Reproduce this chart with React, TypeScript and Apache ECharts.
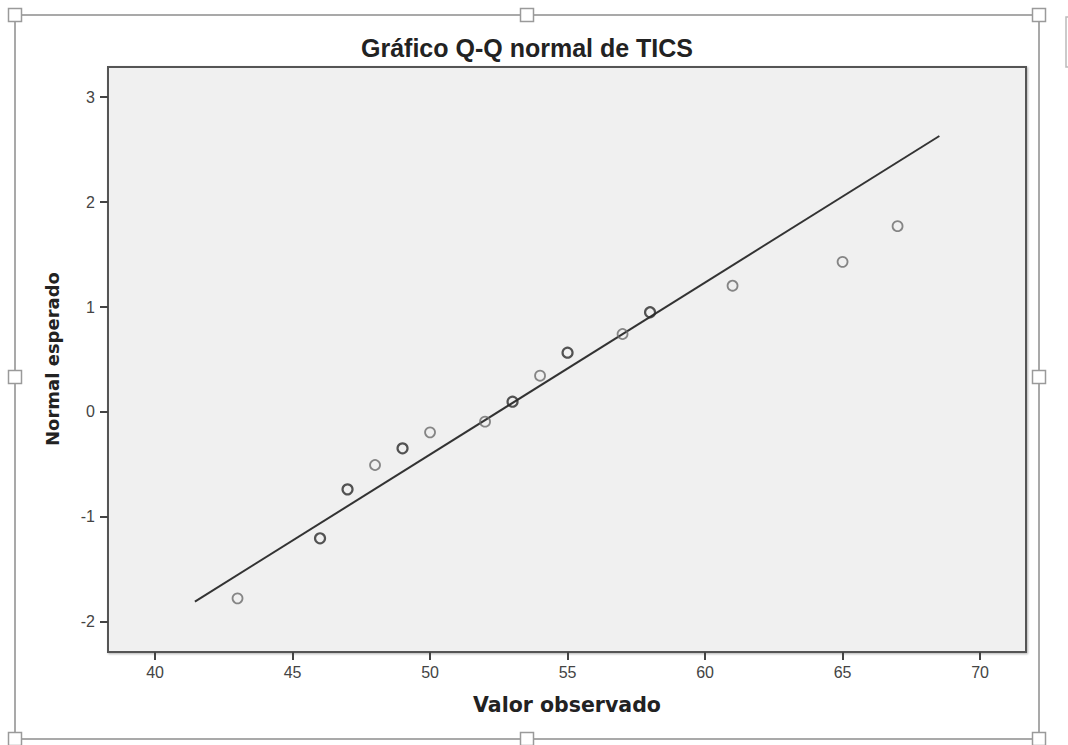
import React, { useEffect, useRef } from "react";
import * as echarts from "echarts";

// Observed values (x) and expected normal scores (y)
const observed = [43, 46, 47, 48, 49, 50, 52, 53, 54, 55, 57, 58, 61, 65, 67];
const expectedNormal = [-1.775, -1.203, -0.737, -0.505, -0.346, -0.194, -0.092, 0.098, 0.346, 0.565, 0.743, 0.95, 1.203, 1.43, 1.77];
// points drawn darker in the reference (overlapping cases)
const repeated = [false, true, true, false, true, false, false, true, false, true, false, true, false, false, false];

// Reference normal line end points
const lineX = [41.45, 68.52];
const lineY = [-1.806, 2.629];

const xTicks = [40, 45, 50, 55, 60, 65, 70];
const yTicks = [-2, -1, 0, 1, 2, 3];

const titleText = "Gráfico Q-Q normal de TICS";
const xName = "Valor observado";
const yName = "Normal esperado";

export default function App() {
  const ref = useRef<HTMLDivElement>(null);

  useEffect(() => {
    if (!ref.current) return;
    const chart = echarts.init(ref.current, null, { renderer: "svg" });

    const points = observed.map((x, i) => ({
      value: [x, expectedNormal[i]],
      itemStyle: repeated[i]
        ? { color: "rgba(0,0,0,0)", borderColor: "#2b2b2b", borderWidth: 2.2 }
        : { color: "rgba(0,0,0,0)", borderColor: "#6a6a6a", borderWidth: 1.8 },
    }));

    const handles: any[] = [];
    const hx = [15, 527, 1039];
    const hy = [15, 377, 739];
    hx.forEach((x) =>
      hy.forEach((y) => {
        if (x === 527 && y === 377) return;
        handles.push({
          type: "rect",
          shape: { x: x - 6.5, y: y - 6.5, width: 13, height: 13 },
          style: { fill: "#ffffff", stroke: "#9a9a9a", lineWidth: 1.5 },
          z: 10,
        });
      })
    );

    chart.setOption({
      animation: false,
      backgroundColor: "#ffffff",
      grid: {
        left: 108,
        top: 67,
        right: 42,
        bottom: 93,
        show: true,
        backgroundColor: "#f0f0f0",
        borderColor: "#555555",
        borderWidth: 2,
        shadowColor: "rgba(0,0,0,0.3)",
        shadowBlur: 2,
        shadowOffsetX: 1,
        shadowOffsetY: 1,
      },
      xAxis: {
        type: "value",
        min: 38.29,
        max: 71.67,
        splitLine: { show: false },
        axisLine: { show: true, onZero: false, lineStyle: { color: "#555555", width: 2 } },
        axisTick: {
          show: true,
          length: 8,
          customValues: xTicks,
          lineStyle: { color: "#444444", width: 2 },
        },
        axisLabel: {
          customValues: xTicks,
          margin: 12,
          fontSize: 16,
          fontFamily: "Liberation Sans, Arial, sans-serif",
          color: "#444444",
        },
      },
      yAxis: {
        type: "value",
        min: -2.286,
        max: 3.286,
        splitLine: { show: false },
        axisLine: { show: true, onZero: false, lineStyle: { color: "#555555", width: 2 } },
        axisTick: {
          show: true,
          length: 8,
          customValues: yTicks,
          lineStyle: { color: "#444444", width: 2 },
        },
        axisLabel: {
          customValues: yTicks,
          margin: 13,
          fontSize: 16,
          fontFamily: "Liberation Sans, Arial, sans-serif",
          color: "#444444",
        },
      },
      series: [
        {
          type: "line",
          data: lineX.map((x, i) => [x, lineY[i]]),
          symbol: "none",
          lineStyle: { color: "#333333", width: 2 },
          z: 2,
        },
        {
          type: "scatter",
          data: points,
          symbol: "circle",
          symbolSize: 10,
          z: 3,
        },
      ],
      graphic: [
        {
          type: "rect",
          shape: { x: 15, y: 15, width: 1024, height: 724 },
          style: { fill: "none", stroke: "#a9a9a9", lineWidth: 2 },
          z: 9,
        },
        {
          type: "rect",
          shape: { x: 1066, y: 17, width: 20, height: 50 },
          style: { fill: "#ffffff", stroke: "#bbbbbb", lineWidth: 1.5 },
          z: 9,
        },
        ...handles,
        {
          type: "text",
          x: 527,
          y: 48,
          style: {
            text: titleText,
            fontSize: 25,
            fontWeight: "bold",
            fontFamily: "Liberation Sans, Arial, sans-serif",
            fill: "#222222",
            textAlign: "center",
            textVerticalAlign: "middle",
          },
          z: 10,
        },
        {
          type: "text",
          x: 567,
          y: 705,
          style: {
            text: xName,
            fontSize: 20.5,
            fontWeight: "bold",
            fontFamily: "DejaVu Sans, sans-serif",
            fill: "#222222",
            textAlign: "center",
            textVerticalAlign: "middle",
          },
          z: 10,
        },
        {
          type: "text",
          x: 52,
          y: 359,
          rotation: Math.PI / 2,
          style: {
            text: yName,
            fontSize: 18,
            fontWeight: "bold",
            fontFamily: "DejaVu Sans, sans-serif",
            fill: "#222222",
            textAlign: "center",
            textVerticalAlign: "middle",
          },
          z: 10,
        },
      ],
    });

    return () => chart.dispose();
  }, []);

  return (
    <div
      ref={ref}
      style={{ position: "fixed", left: 0, top: 0, width: 1068, height: 745 }}
    />
  );
}
